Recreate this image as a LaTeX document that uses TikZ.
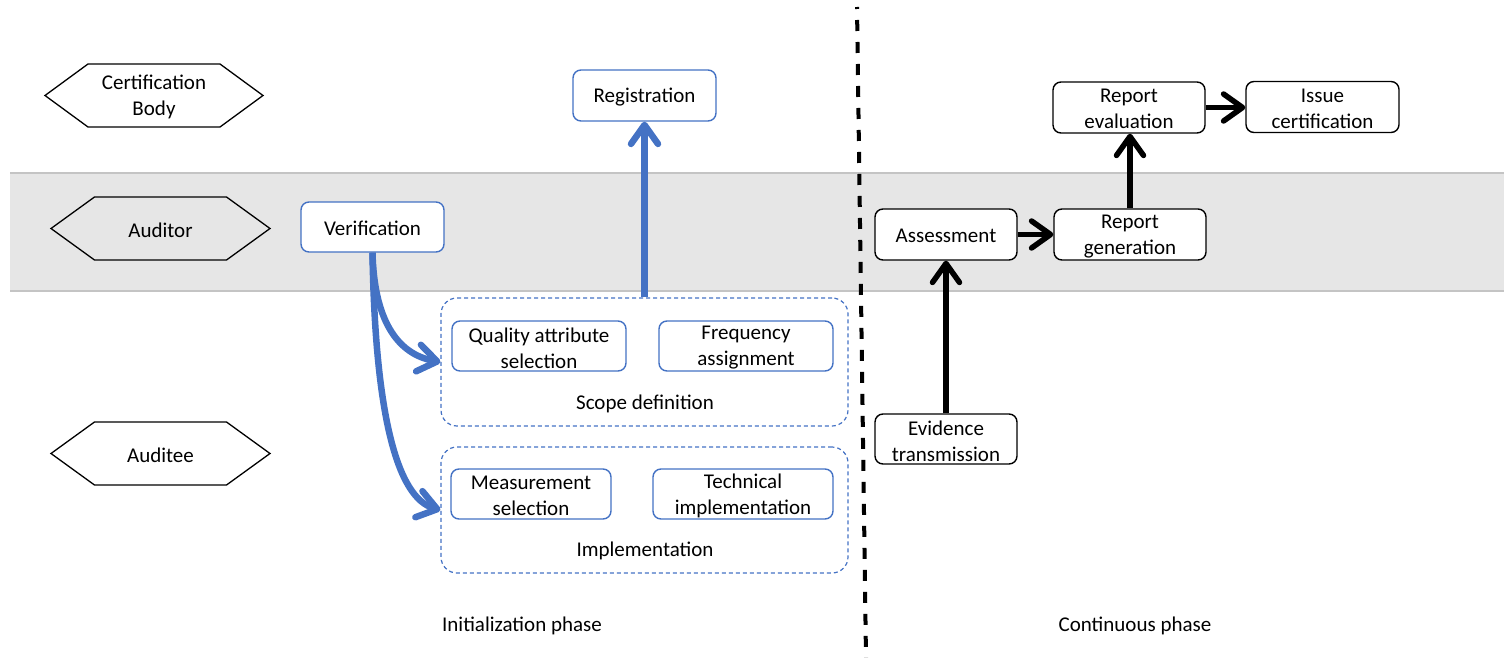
\documentclass[tikz,border=0pt]{standalone}
\usepackage{fontspec}
\setmainfont{Carlito}
\usetikzlibrary{arrows.meta}
\definecolor{officeblue}{HTML}{4472C4}
\definecolor{bandgray}{HTML}{E6E6E6}
\definecolor{bandline}{HTML}{C4C4C4}

\begin{document}
\begin{tikzpicture}[x=1pt,y=-1pt,
  every node/.style={font=\fontsize{21}{26}\selectfont, inner sep=0pt, align=center},
  bluebox/.style={draw=officeblue, line width=1.4pt, rounded corners=8pt, fill=white},
  blackbox/.style={draw=black, line width=1.4pt, rounded corners=8pt, fill=white},
  groupbox/.style={draw=officeblue, line width=1.2pt, dash pattern=on 4pt off 3pt, rounded corners=16pt},
  hexline/.style={draw=black, line width=1.3pt, line join=miter},
  bluearrow/.style={draw=officeblue, line width=6.5pt,
    -{Straight Barb[length=19pt,width=27pt,round]}},
  blackarrow/.style={draw=black, line width=5.5pt,
    -{Straight Barb[length=19pt,width=27pt,round]}},
  divider/.style={draw=black, line width=4pt, dash pattern=on 11pt off 11pt, dash phase=9pt},
  lowered/.style={yshift=-1.8pt},
]
\useasboundingbox (0,0) rectangle (1504,658);

% Auditor lane
\fill[bandgray] (10,173) rectangle (1504,291);
\draw[bandline, line width=1.2pt] (10,173) -- (1504,173);
\draw[bandline, line width=1.2pt] (10,291) -- (1504,291);

% phase divider
\draw[divider] (857,7) -- (866,658);

% role hexagons
\coordinate (cbc) at (154,95.5);
\draw[hexline] ([xshift=-109pt]cbc) -- ++(43,-31.5) -- ++(132,0) -- ++(43,31.5)
  -- ++(-43,31.5) -- ++(-132,0) -- cycle;
\node[lowered] (cb) at (cbc) {Certification\\Body};
\coordinate (auditorc) at (160.5,228.5);
\draw[hexline] ([xshift=-109.5pt]auditorc) -- ++(43.5,-31.5) -- ++(132,0) -- ++(43.5,31.5)
  -- ++(-43.5,31.5) -- ++(-132,0) -- cycle;
\node[lowered] (auditor) at (auditorc) {Auditor};
\coordinate (auditeec) at (160.5,453.5);
\draw[hexline] ([xshift=-109.5pt]auditeec) -- ++(43.5,-31.5) -- ++(132,0) -- ++(43.5,31.5)
  -- ++(-43.5,31.5) -- ++(-132,0) -- cycle;
\node[lowered] (auditee) at (auditeec) {Auditee};

% initialization phase
\node[bluebox, minimum width=143pt, minimum height=51pt] (reg) at (644.5,95.5) {};
\node[lowered] at (reg) {Registration};
\node[bluebox, minimum width=143pt, minimum height=50pt] (ver) at (372.5,227) {};
\node[lowered] at (ver) {Verification};

\node[groupbox, minimum width=407pt, minimum height=128pt] (scope) at (644.5,362) {};
\node[lowered] at (645,402) (scopelbl) {Scope definition};
\node[bluebox, minimum width=174pt, minimum height=50pt] (qas) at (539,346) {};
\node[lowered] at (qas) {Quality attribute\\selection};
\node[bluebox, minimum width=174pt, minimum height=50pt] (fa) at (746,346) {};
\node[lowered] at (fa) {Frequency\\assignment};

\node[groupbox, minimum width=407pt, minimum height=126pt] (impl) at (644.5,510) {};
\node[lowered] at (645,549) (impllbl) {Implementation};
\node[bluebox, minimum width=160pt, minimum height=50pt] (ms) at (531,494) {};
\node[lowered] at (ms) {Measurement\\selection};
\node[bluebox, minimum width=180pt, minimum height=50pt] (ti) at (743,494) {};
\node[lowered] at (ti) {Technical\\implementation};

\draw[bluearrow] (scope.north) -- (reg.south);
\draw[bluearrow] (ver.south) .. controls (374,318) and (396,354) .. (scope.west);
\draw[bluearrow] (ver.south) .. controls (375,410) and (396,498) .. (impl.west);

% continuous phase
\node[blackbox, minimum width=142pt, minimum height=51pt] (ass) at (946,234.5) {};
\node[lowered] at (ass) {Assessment};
\node[blackbox, minimum width=152pt, minimum height=51pt] (rg) at (1130,234.5) {};
\node[lowered] at (rg) {Report\\generation};
\node[blackbox, minimum width=152pt, minimum height=51pt] (re) at (1129,107.5) {};
\node[lowered] at (re) {Report\\evaluation};
\node[blackbox, minimum width=153pt, minimum height=51pt] (iss) at (1322.5,107) {};
\node[lowered] at (iss) {Issue\\certification};
\node[blackbox, minimum width=142pt, minimum height=50pt] (ev) at (946,439) {};
\node[lowered] at (ev) {Evidence\\transmission};

\draw[blackarrow] (ev.north) -- (ass.south);
\draw[blackarrow] (ass.east) -- (rg.west);
\draw[blackarrow] (rg.north) -- (rg.north |- re.south);
\draw[blackarrow] (re.east) -- (re.east -| iss.west);

% phase labels
\node[lowered] (initlbl) at (522,624) {Initialization phase};
\node[lowered] (contlbl) at (1135,624) {Continuous phase};
\end{tikzpicture}
\end{document}
